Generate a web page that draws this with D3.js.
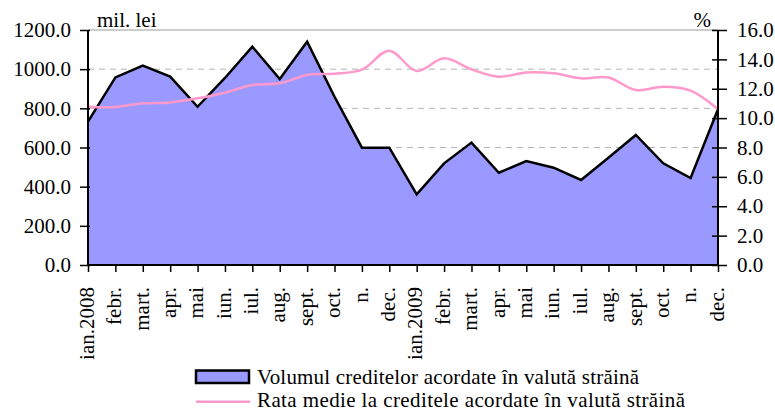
<!DOCTYPE html>
<html>
<head>
<meta charset="utf-8">
<script src="https://cdn.jsdelivr.net/npm/d3@7/dist/d3.min.js"></script>
<style>
  html, body { margin: 0; padding: 0; background: #fff; }
</style>
</head>
<body>
<svg id="chart" width="775" height="410"></svg>
<script>
// Monthly categories, Jan 2008 – Dec 2009
const months = ["ian.2008","febr.","mart.","apr.","mai","iun.","iul.","aug.","sept.","oct.","n.","dec.",
                "ian.2009","febr.","mart.","apr.","mai","iun.","iul.","aug.","sept.","oct.","n.","dec."];
// Volume of foreign-currency loans granted, mil. lei
const volume = [732, 958, 1018, 962, 808, 955, 1115, 950, 1140, 859, 599, 599,
                361, 519, 625, 471, 531, 497, 434, 548, 664, 519, 444, 795];
// Average interest rate on foreign-currency loans, %
const rate = [10.78, 10.76, 11.01, 11.07, 11.35, 11.73, 12.26, 12.37, 12.94, 13.02, 13.3, 14.59,
              13.21, 14.07, 13.32, 12.82, 13.1, 13.05, 12.71, 12.76, 11.91, 12.14, 11.87, 10.6];
const leftTicks = [0, 200, 400, 600, 800, 1000, 1200];
const rightTicks = [0, 2, 4, 6, 8, 10, 12, 14, 16];
const gridValues = [600, 800, 1000];
const legendLabels = ["Volumul creditelor acordate în valută străină",
                      "Rata medie la creditele acordate în valută străină"];

const FONT = "'Liberation Serif', Tinos, 'Times New Roman', 'DejaVu Serif', serif";
const fontSize = 21;

const svg = d3.select("#chart").style("font-family", FONT);
const plotLeft = 88, plotRight = 718, plotTop = 30, plotBottom = 265;

const x = d3.scalePoint().domain(d3.range(months.length)).range([plotLeft, plotRight]);
const yL = d3.scaleLinear().domain([0, 1200]).range([plotBottom, plotTop]);
const yR = d3.scaleLinear().domain([0, 16]).range([plotBottom, plotTop]);

// dashed gridlines
svg.append("g").selectAll("line").data(gridValues).join("line")
  .attr("x1", plotLeft).attr("x2", plotRight)
  .attr("y1", d => yL(d)).attr("y2", d => yL(d))
  .attr("stroke", "#b4b4b4").attr("stroke-width", 1).attr("stroke-dasharray", "6,5");

// top border of the plot area
svg.append("line")
  .attr("x1", plotLeft).attr("x2", plotRight).attr("y1", yL(1200)).attr("y2", yL(1200))
  .attr("stroke", "#bdbdbd").attr("stroke-width", 1.5);

// volume area
const area = d3.area().x((d, i) => x(i)).y0(plotBottom).y1(d => yL(d));
svg.append("path").datum(volume)
  .attr("d", area).attr("fill", "#9999ff").attr("stroke", "none");
const outline = d3.line().x((d, i) => x(i)).y(d => yL(d));
svg.append("path").datum(volume)
  .attr("d", outline).attr("fill", "none").attr("stroke", "#000")
  .attr("stroke-width", 2.5).attr("stroke-linejoin", "miter");

// smoothed rate line
const rateLine = d3.line().x((d, i) => x(i)).y(d => yR(d)).curve(d3.curveCatmullRom.alpha(0.5));
svg.append("path").datum(rate)
  .attr("d", rateLine).attr("fill", "none").attr("stroke", "#ff99cc").attr("stroke-width", 2.5);

// axes
const axL = svg.append("g").attr("transform", `translate(${plotLeft},0)`)
  .call(d3.axisLeft(yL).tickValues(leftTicks).tickFormat(d3.format(".1f")).tickSize(8).tickPadding(9));
const axR = svg.append("g").attr("transform", `translate(${plotRight},0)`)
  .call(d3.axisRight(yR).tickValues(rightTicks).tickFormat(d3.format(".1f")).tickSize(9).tickPadding(10));
const axB = svg.append("g").attr("transform", `translate(0,${plotBottom})`)
  .call(d3.axisBottom(x).tickFormat(i => months[i]).tickSize(7));

[axL, axR, axB].forEach(g => {
  g.attr("font-family", null).attr("font-size", null);
  g.select(".domain").attr("stroke", "#000").attr("stroke-width", 2);
  g.selectAll(".tick line").attr("stroke", "#000").attr("stroke-width", 1.5);
  g.selectAll("text").style("font-size", fontSize + "px").style("font-family", FONT);
});
axL.select(".domain").attr("d", `M0,${plotBottom}V${plotTop}`);
axR.select(".domain").attr("d", `M0,${plotBottom}V${plotTop}`);
axB.select(".domain").attr("d", `M${plotLeft},0H${plotRight}`);
axR.selectAll(".tick line").attr("x1", -6);
axL.selectAll(".tick line").attr("x1", 2);

axB.selectAll("text")
  .attr("transform", "rotate(-90)")
  .attr("text-anchor", "end")
  .attr("x", -22).attr("y", 0).attr("dy", "0.25em");

// axis titles
const label = (g, xx, yy, t, anchor) => g.append("text").attr("x", xx).attr("y", yy)
  .attr("text-anchor", anchor || "start").style("font-size", fontSize + "px").style("font-family", FONT).text(t);
label(svg, 97, 26.5, "mil. lei");
label(svg, 711, 27, "%", "end");

// legend
const lg = svg.append("g");
lg.append("rect").attr("x", 196).attr("y", 370.5).attr("width", 53).attr("height", 12.5)
  .attr("fill", "#9999ff").attr("stroke", "#000").attr("stroke-width", 2.5);
lg.append("line").attr("x1", 196).attr("x2", 250).attr("y1", 401.7).attr("y2", 401.7)
  .attr("stroke", "#ff99cc").attr("stroke-width", 2.5);
label(lg, 257, 384, legendLabels[0]).attr("textLength", 382).attr("lengthAdjust", "spacing");
label(lg, 257, 406.5, legendLabels[1]).attr("textLength", 428).attr("lengthAdjust", "spacing");
</script>
</body>
</html>
